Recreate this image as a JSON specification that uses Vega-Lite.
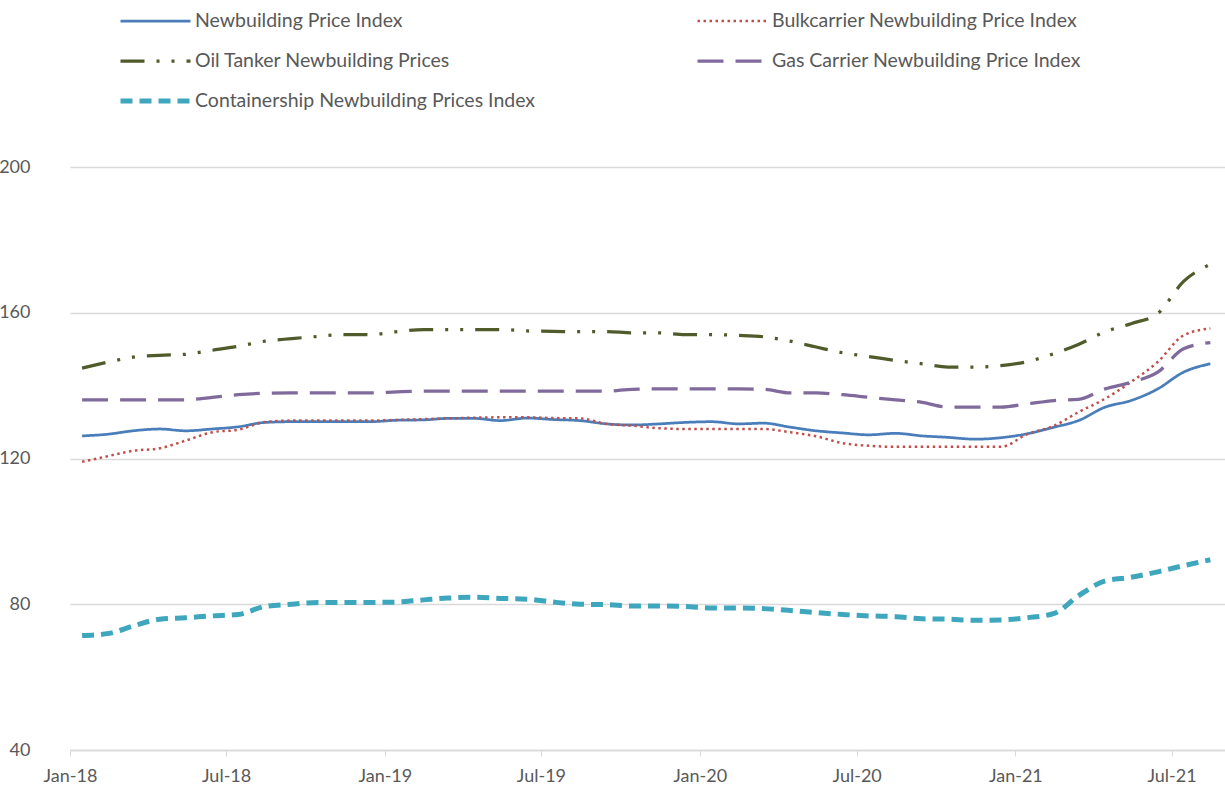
{
  "$schema": "https://vega.github.io/schema/vega-lite/v6.json",
  "width": 1155,
  "height": 583,
  "autosize": {"type": "none"},
  "padding": {"left": 70, "top": 167, "right": 0, "bottom": 36},
  "background": "white",
  "config": {
    "view": {"stroke": null},
    "font": "Lato",
    "axis": {"labelFont": "Lato", "labelFontSize": 18, "labelColor": "#595959"},
    "legend": {"labelFont": "Lato", "labelFontSize": 19.5, "labelColor": "#595959"}
  },
  "data": {"values": [
    {"series":"Newbuilding Price Index","date":"2018-01-15","value":126.2},
    {"series":"Newbuilding Price Index","date":"2018-02-15","value":126.7},
    {"series":"Newbuilding Price Index","date":"2018-03-15","value":127.6},
    {"series":"Newbuilding Price Index","date":"2018-04-15","value":128.1},
    {"series":"Newbuilding Price Index","date":"2018-05-15","value":127.6},
    {"series":"Newbuilding Price Index","date":"2018-06-15","value":128.1},
    {"series":"Newbuilding Price Index","date":"2018-07-15","value":128.7},
    {"series":"Newbuilding Price Index","date":"2018-08-15","value":129.9},
    {"series":"Newbuilding Price Index","date":"2018-09-15","value":130.1},
    {"series":"Newbuilding Price Index","date":"2018-10-15","value":130.1},
    {"series":"Newbuilding Price Index","date":"2018-11-15","value":130.1},
    {"series":"Newbuilding Price Index","date":"2018-12-15","value":130.1},
    {"series":"Newbuilding Price Index","date":"2019-01-15","value":130.5},
    {"series":"Newbuilding Price Index","date":"2019-02-15","value":130.6},
    {"series":"Newbuilding Price Index","date":"2019-03-15","value":131.0},
    {"series":"Newbuilding Price Index","date":"2019-04-15","value":131.0},
    {"series":"Newbuilding Price Index","date":"2019-05-15","value":130.4},
    {"series":"Newbuilding Price Index","date":"2019-06-15","value":131.1},
    {"series":"Newbuilding Price Index","date":"2019-07-15","value":130.7},
    {"series":"Newbuilding Price Index","date":"2019-08-15","value":130.4},
    {"series":"Newbuilding Price Index","date":"2019-09-15","value":129.5},
    {"series":"Newbuilding Price Index","date":"2019-10-15","value":129.2},
    {"series":"Newbuilding Price Index","date":"2019-11-15","value":129.5},
    {"series":"Newbuilding Price Index","date":"2019-12-15","value":129.9},
    {"series":"Newbuilding Price Index","date":"2020-01-15","value":130.1},
    {"series":"Newbuilding Price Index","date":"2020-02-15","value":129.5},
    {"series":"Newbuilding Price Index","date":"2020-03-15","value":129.7},
    {"series":"Newbuilding Price Index","date":"2020-04-15","value":128.6},
    {"series":"Newbuilding Price Index","date":"2020-05-15","value":127.6},
    {"series":"Newbuilding Price Index","date":"2020-06-15","value":127.0},
    {"series":"Newbuilding Price Index","date":"2020-07-15","value":126.5},
    {"series":"Newbuilding Price Index","date":"2020-08-15","value":126.9},
    {"series":"Newbuilding Price Index","date":"2020-09-15","value":126.2},
    {"series":"Newbuilding Price Index","date":"2020-10-15","value":125.8},
    {"series":"Newbuilding Price Index","date":"2020-11-15","value":125.3},
    {"series":"Newbuilding Price Index","date":"2020-12-15","value":125.7},
    {"series":"Newbuilding Price Index","date":"2021-01-15","value":126.8},
    {"series":"Newbuilding Price Index","date":"2021-02-15","value":128.6},
    {"series":"Newbuilding Price Index","date":"2021-03-15","value":130.4},
    {"series":"Newbuilding Price Index","date":"2021-04-15","value":134.1},
    {"series":"Newbuilding Price Index","date":"2021-05-15","value":135.9},
    {"series":"Newbuilding Price Index","date":"2021-06-15","value":139.1},
    {"series":"Newbuilding Price Index","date":"2021-07-15","value":143.7},
    {"series":"Newbuilding Price Index","date":"2021-08-15","value":146.0},

    {"series":"Bulkcarrier Newbuilding Price Index","date":"2018-01-15","value":119.1},
    {"series":"Bulkcarrier Newbuilding Price Index","date":"2018-02-15","value":120.7},
    {"series":"Bulkcarrier Newbuilding Price Index","date":"2018-03-15","value":122.1},
    {"series":"Bulkcarrier Newbuilding Price Index","date":"2018-04-15","value":122.8},
    {"series":"Bulkcarrier Newbuilding Price Index","date":"2018-05-15","value":124.9},
    {"series":"Bulkcarrier Newbuilding Price Index","date":"2018-06-15","value":127.2},
    {"series":"Bulkcarrier Newbuilding Price Index","date":"2018-07-15","value":127.9},
    {"series":"Bulkcarrier Newbuilding Price Index","date":"2018-08-15","value":130.0},
    {"series":"Bulkcarrier Newbuilding Price Index","date":"2018-09-15","value":130.4},
    {"series":"Bulkcarrier Newbuilding Price Index","date":"2018-10-15","value":130.4},
    {"series":"Bulkcarrier Newbuilding Price Index","date":"2018-11-15","value":130.4},
    {"series":"Bulkcarrier Newbuilding Price Index","date":"2018-12-15","value":130.4},
    {"series":"Bulkcarrier Newbuilding Price Index","date":"2019-01-15","value":130.6},
    {"series":"Bulkcarrier Newbuilding Price Index","date":"2019-02-15","value":130.8},
    {"series":"Bulkcarrier Newbuilding Price Index","date":"2019-03-15","value":131.0},
    {"series":"Bulkcarrier Newbuilding Price Index","date":"2019-04-15","value":131.2},
    {"series":"Bulkcarrier Newbuilding Price Index","date":"2019-05-15","value":131.3},
    {"series":"Bulkcarrier Newbuilding Price Index","date":"2019-06-15","value":131.3},
    {"series":"Bulkcarrier Newbuilding Price Index","date":"2019-07-15","value":131.1},
    {"series":"Bulkcarrier Newbuilding Price Index","date":"2019-08-15","value":131.0},
    {"series":"Bulkcarrier Newbuilding Price Index","date":"2019-09-15","value":129.5},
    {"series":"Bulkcarrier Newbuilding Price Index","date":"2019-10-15","value":129.0},
    {"series":"Bulkcarrier Newbuilding Price Index","date":"2019-11-15","value":128.3},
    {"series":"Bulkcarrier Newbuilding Price Index","date":"2019-12-15","value":128.1},
    {"series":"Bulkcarrier Newbuilding Price Index","date":"2020-01-15","value":128.1},
    {"series":"Bulkcarrier Newbuilding Price Index","date":"2020-02-15","value":128.1},
    {"series":"Bulkcarrier Newbuilding Price Index","date":"2020-03-15","value":128.1},
    {"series":"Bulkcarrier Newbuilding Price Index","date":"2020-04-15","value":127.2},
    {"series":"Bulkcarrier Newbuilding Price Index","date":"2020-05-15","value":126.1},
    {"series":"Bulkcarrier Newbuilding Price Index","date":"2020-06-15","value":124.2},
    {"series":"Bulkcarrier Newbuilding Price Index","date":"2020-07-15","value":123.5},
    {"series":"Bulkcarrier Newbuilding Price Index","date":"2020-08-15","value":123.2},
    {"series":"Bulkcarrier Newbuilding Price Index","date":"2020-09-15","value":123.2},
    {"series":"Bulkcarrier Newbuilding Price Index","date":"2020-10-15","value":123.2},
    {"series":"Bulkcarrier Newbuilding Price Index","date":"2020-11-15","value":123.2},
    {"series":"Bulkcarrier Newbuilding Price Index","date":"2020-12-15","value":123.2},
    {"series":"Bulkcarrier Newbuilding Price Index","date":"2021-01-15","value":126.7},
    {"series":"Bulkcarrier Newbuilding Price Index","date":"2021-02-15","value":129.0},
    {"series":"Bulkcarrier Newbuilding Price Index","date":"2021-03-15","value":132.7},
    {"series":"Bulkcarrier Newbuilding Price Index","date":"2021-04-15","value":136.4},
    {"series":"Bulkcarrier Newbuilding Price Index","date":"2021-05-15","value":141.0},
    {"series":"Bulkcarrier Newbuilding Price Index","date":"2021-06-15","value":146.5},
    {"series":"Bulkcarrier Newbuilding Price Index","date":"2021-07-15","value":153.8},
    {"series":"Bulkcarrier Newbuilding Price Index","date":"2021-08-15","value":155.7},

    {"series":"Oil Tanker Newbuilding Prices","date":"2018-01-15","value":144.8},
    {"series":"Oil Tanker Newbuilding Prices","date":"2018-02-15","value":146.5},
    {"series":"Oil Tanker Newbuilding Prices","date":"2018-03-15","value":147.8},
    {"series":"Oil Tanker Newbuilding Prices","date":"2018-04-15","value":148.3},
    {"series":"Oil Tanker Newbuilding Prices","date":"2018-05-15","value":148.6},
    {"series":"Oil Tanker Newbuilding Prices","date":"2018-06-15","value":149.7},
    {"series":"Oil Tanker Newbuilding Prices","date":"2018-07-15","value":150.8},
    {"series":"Oil Tanker Newbuilding Prices","date":"2018-08-15","value":152.2},
    {"series":"Oil Tanker Newbuilding Prices","date":"2018-09-15","value":152.9},
    {"series":"Oil Tanker Newbuilding Prices","date":"2018-10-15","value":153.5},
    {"series":"Oil Tanker Newbuilding Prices","date":"2018-11-15","value":154.0},
    {"series":"Oil Tanker Newbuilding Prices","date":"2018-12-15","value":154.0},
    {"series":"Oil Tanker Newbuilding Prices","date":"2019-01-15","value":154.8},
    {"series":"Oil Tanker Newbuilding Prices","date":"2019-02-15","value":155.4},
    {"series":"Oil Tanker Newbuilding Prices","date":"2019-03-15","value":155.4},
    {"series":"Oil Tanker Newbuilding Prices","date":"2019-04-15","value":155.4},
    {"series":"Oil Tanker Newbuilding Prices","date":"2019-05-15","value":155.4},
    {"series":"Oil Tanker Newbuilding Prices","date":"2019-06-15","value":155.0},
    {"series":"Oil Tanker Newbuilding Prices","date":"2019-07-15","value":154.9},
    {"series":"Oil Tanker Newbuilding Prices","date":"2019-08-15","value":154.8},
    {"series":"Oil Tanker Newbuilding Prices","date":"2019-09-15","value":154.8},
    {"series":"Oil Tanker Newbuilding Prices","date":"2019-10-15","value":154.5},
    {"series":"Oil Tanker Newbuilding Prices","date":"2019-11-15","value":154.5},
    {"series":"Oil Tanker Newbuilding Prices","date":"2019-12-15","value":154.0},
    {"series":"Oil Tanker Newbuilding Prices","date":"2020-01-15","value":154.0},
    {"series":"Oil Tanker Newbuilding Prices","date":"2020-02-15","value":153.8},
    {"series":"Oil Tanker Newbuilding Prices","date":"2020-03-15","value":153.4},
    {"series":"Oil Tanker Newbuilding Prices","date":"2020-04-15","value":152.2},
    {"series":"Oil Tanker Newbuilding Prices","date":"2020-05-15","value":150.6},
    {"series":"Oil Tanker Newbuilding Prices","date":"2020-06-15","value":149.0},
    {"series":"Oil Tanker Newbuilding Prices","date":"2020-07-15","value":148.0},
    {"series":"Oil Tanker Newbuilding Prices","date":"2020-08-15","value":146.9},
    {"series":"Oil Tanker Newbuilding Prices","date":"2020-09-15","value":146.0},
    {"series":"Oil Tanker Newbuilding Prices","date":"2020-10-15","value":145.1},
    {"series":"Oil Tanker Newbuilding Prices","date":"2020-11-15","value":145.1},
    {"series":"Oil Tanker Newbuilding Prices","date":"2020-12-15","value":145.5},
    {"series":"Oil Tanker Newbuilding Prices","date":"2021-01-15","value":146.6},
    {"series":"Oil Tanker Newbuilding Prices","date":"2021-02-15","value":148.8},
    {"series":"Oil Tanker Newbuilding Prices","date":"2021-03-15","value":151.3},
    {"series":"Oil Tanker Newbuilding Prices","date":"2021-04-15","value":154.8},
    {"series":"Oil Tanker Newbuilding Prices","date":"2021-05-15","value":157.0},
    {"series":"Oil Tanker Newbuilding Prices","date":"2021-06-15","value":159.8},
    {"series":"Oil Tanker Newbuilding Prices","date":"2021-07-15","value":168.6},
    {"series":"Oil Tanker Newbuilding Prices","date":"2021-08-15","value":173.3},

    {"series":"Gas Carrier Newbuilding Price Index","date":"2018-01-15","value":136.1},
    {"series":"Gas Carrier Newbuilding Price Index","date":"2018-02-15","value":136.1},
    {"series":"Gas Carrier Newbuilding Price Index","date":"2018-03-15","value":136.1},
    {"series":"Gas Carrier Newbuilding Price Index","date":"2018-04-15","value":136.1},
    {"series":"Gas Carrier Newbuilding Price Index","date":"2018-05-15","value":136.1},
    {"series":"Gas Carrier Newbuilding Price Index","date":"2018-06-15","value":136.8},
    {"series":"Gas Carrier Newbuilding Price Index","date":"2018-07-15","value":137.5},
    {"series":"Gas Carrier Newbuilding Price Index","date":"2018-08-15","value":137.9},
    {"series":"Gas Carrier Newbuilding Price Index","date":"2018-09-15","value":138.0},
    {"series":"Gas Carrier Newbuilding Price Index","date":"2018-10-15","value":138.0},
    {"series":"Gas Carrier Newbuilding Price Index","date":"2018-11-15","value":138.0},
    {"series":"Gas Carrier Newbuilding Price Index","date":"2018-12-15","value":138.0},
    {"series":"Gas Carrier Newbuilding Price Index","date":"2019-01-15","value":138.3},
    {"series":"Gas Carrier Newbuilding Price Index","date":"2019-02-15","value":138.5},
    {"series":"Gas Carrier Newbuilding Price Index","date":"2019-03-15","value":138.5},
    {"series":"Gas Carrier Newbuilding Price Index","date":"2019-04-15","value":138.5},
    {"series":"Gas Carrier Newbuilding Price Index","date":"2019-05-15","value":138.5},
    {"series":"Gas Carrier Newbuilding Price Index","date":"2019-06-15","value":138.5},
    {"series":"Gas Carrier Newbuilding Price Index","date":"2019-07-15","value":138.5},
    {"series":"Gas Carrier Newbuilding Price Index","date":"2019-08-15","value":138.5},
    {"series":"Gas Carrier Newbuilding Price Index","date":"2019-09-15","value":138.5},
    {"series":"Gas Carrier Newbuilding Price Index","date":"2019-10-15","value":139.0},
    {"series":"Gas Carrier Newbuilding Price Index","date":"2019-11-15","value":139.1},
    {"series":"Gas Carrier Newbuilding Price Index","date":"2019-12-15","value":139.1},
    {"series":"Gas Carrier Newbuilding Price Index","date":"2020-01-15","value":139.1},
    {"series":"Gas Carrier Newbuilding Price Index","date":"2020-02-15","value":139.1},
    {"series":"Gas Carrier Newbuilding Price Index","date":"2020-03-15","value":139.0},
    {"series":"Gas Carrier Newbuilding Price Index","date":"2020-04-15","value":138.0},
    {"series":"Gas Carrier Newbuilding Price Index","date":"2020-05-15","value":138.0},
    {"series":"Gas Carrier Newbuilding Price Index","date":"2020-06-15","value":137.5},
    {"series":"Gas Carrier Newbuilding Price Index","date":"2020-07-15","value":136.8},
    {"series":"Gas Carrier Newbuilding Price Index","date":"2020-08-15","value":136.1},
    {"series":"Gas Carrier Newbuilding Price Index","date":"2020-09-15","value":135.4},
    {"series":"Gas Carrier Newbuilding Price Index","date":"2020-10-15","value":134.1},
    {"series":"Gas Carrier Newbuilding Price Index","date":"2020-11-15","value":134.1},
    {"series":"Gas Carrier Newbuilding Price Index","date":"2020-12-15","value":134.1},
    {"series":"Gas Carrier Newbuilding Price Index","date":"2021-01-15","value":135.0},
    {"series":"Gas Carrier Newbuilding Price Index","date":"2021-02-15","value":135.9},
    {"series":"Gas Carrier Newbuilding Price Index","date":"2021-03-15","value":136.2},
    {"series":"Gas Carrier Newbuilding Price Index","date":"2021-04-15","value":139.1},
    {"series":"Gas Carrier Newbuilding Price Index","date":"2021-05-15","value":140.9},
    {"series":"Gas Carrier Newbuilding Price Index","date":"2021-06-15","value":143.7},
    {"series":"Gas Carrier Newbuilding Price Index","date":"2021-07-15","value":150.1},
    {"series":"Gas Carrier Newbuilding Price Index","date":"2021-08-15","value":151.8},

    {"series":"Containership Newbuilding Prices Index","date":"2018-01-15","value":71.4},
    {"series":"Containership Newbuilding Prices Index","date":"2018-02-15","value":72.0},
    {"series":"Containership Newbuilding Prices Index","date":"2018-03-15","value":74.0},
    {"series":"Containership Newbuilding Prices Index","date":"2018-04-15","value":75.9},
    {"series":"Containership Newbuilding Prices Index","date":"2018-05-15","value":76.3},
    {"series":"Containership Newbuilding Prices Index","date":"2018-06-15","value":76.8},
    {"series":"Containership Newbuilding Prices Index","date":"2018-07-15","value":77.2},
    {"series":"Containership Newbuilding Prices Index","date":"2018-08-15","value":79.4},
    {"series":"Containership Newbuilding Prices Index","date":"2018-09-15","value":80.0},
    {"series":"Containership Newbuilding Prices Index","date":"2018-10-15","value":80.5},
    {"series":"Containership Newbuilding Prices Index","date":"2018-11-15","value":80.5},
    {"series":"Containership Newbuilding Prices Index","date":"2018-12-15","value":80.5},
    {"series":"Containership Newbuilding Prices Index","date":"2019-01-15","value":80.6},
    {"series":"Containership Newbuilding Prices Index","date":"2019-02-15","value":81.2},
    {"series":"Containership Newbuilding Prices Index","date":"2019-03-15","value":81.7},
    {"series":"Containership Newbuilding Prices Index","date":"2019-04-15","value":81.9},
    {"series":"Containership Newbuilding Prices Index","date":"2019-05-15","value":81.6},
    {"series":"Containership Newbuilding Prices Index","date":"2019-06-15","value":81.4},
    {"series":"Containership Newbuilding Prices Index","date":"2019-07-15","value":80.6},
    {"series":"Containership Newbuilding Prices Index","date":"2019-08-15","value":80.0},
    {"series":"Containership Newbuilding Prices Index","date":"2019-09-15","value":79.9},
    {"series":"Containership Newbuilding Prices Index","date":"2019-10-15","value":79.5},
    {"series":"Containership Newbuilding Prices Index","date":"2019-11-15","value":79.5},
    {"series":"Containership Newbuilding Prices Index","date":"2019-12-15","value":79.4},
    {"series":"Containership Newbuilding Prices Index","date":"2020-01-15","value":79.0},
    {"series":"Containership Newbuilding Prices Index","date":"2020-02-15","value":79.0},
    {"series":"Containership Newbuilding Prices Index","date":"2020-03-15","value":78.8},
    {"series":"Containership Newbuilding Prices Index","date":"2020-04-15","value":78.3},
    {"series":"Containership Newbuilding Prices Index","date":"2020-05-15","value":77.7},
    {"series":"Containership Newbuilding Prices Index","date":"2020-06-15","value":77.2},
    {"series":"Containership Newbuilding Prices Index","date":"2020-07-15","value":76.8},
    {"series":"Containership Newbuilding Prices Index","date":"2020-08-15","value":76.6},
    {"series":"Containership Newbuilding Prices Index","date":"2020-09-15","value":76.0},
    {"series":"Containership Newbuilding Prices Index","date":"2020-10-15","value":75.9},
    {"series":"Containership Newbuilding Prices Index","date":"2020-11-15","value":75.6},
    {"series":"Containership Newbuilding Prices Index","date":"2020-12-15","value":75.7},
    {"series":"Containership Newbuilding Prices Index","date":"2021-01-15","value":76.3},
    {"series":"Containership Newbuilding Prices Index","date":"2021-02-15","value":77.5},
    {"series":"Containership Newbuilding Prices Index","date":"2021-03-15","value":82.3},
    {"series":"Containership Newbuilding Prices Index","date":"2021-04-15","value":86.4},
    {"series":"Containership Newbuilding Prices Index","date":"2021-05-15","value":87.4},
    {"series":"Containership Newbuilding Prices Index","date":"2021-06-15","value":88.9},
    {"series":"Containership Newbuilding Prices Index","date":"2021-07-15","value":90.6},
    {"series":"Containership Newbuilding Prices Index","date":"2021-08-15","value":92.2}
  ]},
  "mark": {"type": "line", "interpolate": "monotone", "strokeCap": "butt"},
  "encoding": {
    "x": {
      "field": "date", "type": "temporal",
      "scale": {"type": "utc", "domain": [{"year": 2018, "month": 1, "date": 1, "utc": true}, {"year": 2021, "month": 9, "date": 1, "utc": true}]},
      "axis": {
        "title": null,
        "labelExpr": "utcFormat(datum.value, '%b-%y')",
        "tickCount": {"interval": "month", "step": 6},
        "grid": false, "domainColor": "#d9d9d9", "domainWidth": 1.5,
        "tickColor": "#d9d9d9", "tickSize": 6, "labelPadding": 11, "labelFlush": false
      }
    },
    "y": {
      "field": "value", "type": "quantitative",
      "scale": {"domain": [40, 200], "nice": false, "zero": false},
      "axis": {
        "title": null, "values": [40, 80, 120, 160, 200],
        "domain": false, "ticks": false, "grid": true, "gridColor": "#d9d9d9", "gridWidth": 1.5,
        "labelPadding": 40
      }
    },
    "color": {
      "field": "series", "type": "nominal",
      "scale": {
        "domain": ["Newbuilding Price Index", "Bulkcarrier Newbuilding Price Index", "Oil Tanker Newbuilding Prices", "Gas Carrier Newbuilding Price Index", "Containership Newbuilding Prices Index"],
        "range": ["#4A7EBB", "#C0504D", "#4F5B2A", "#7F6A9B", "#3EA7BE"]
      },
      "legend": {
        "title": null, "orient": "none", "legendX": 48, "legendY": -156,
        "direction": "horizontal",
        "columns": 2, "columnPadding": 159, "rowPadding": 20,
        "symbolType": "stroke", "symbolSize": 4900, "labelOffset": 2,
        "labelLimit": 500, "clipHeight": 20,
        "gridAlign": "all"
      }
    },
    "strokeDash": {
      "field": "series", "type": "nominal",
      "scale": {
        "domain": ["Newbuilding Price Index", "Bulkcarrier Newbuilding Price Index", "Oil Tanker Newbuilding Prices", "Gas Carrier Newbuilding Price Index", "Containership Newbuilding Prices Index"],
        "range": [[1, 0], [2.5, 3.5], [24, 12, 3, 12, 3, 12], [26, 12], [12, 7]]
      }
    },
    "strokeWidth": {
      "field": "series", "type": "nominal",
      "scale": {
        "type": "ordinal",
        "domain": ["Newbuilding Price Index", "Bulkcarrier Newbuilding Price Index", "Oil Tanker Newbuilding Prices", "Gas Carrier Newbuilding Price Index", "Containership Newbuilding Prices Index"],
        "range": [2.75, 2.5, 3.25, 3.25, 5]
      }
    }
  }
}
